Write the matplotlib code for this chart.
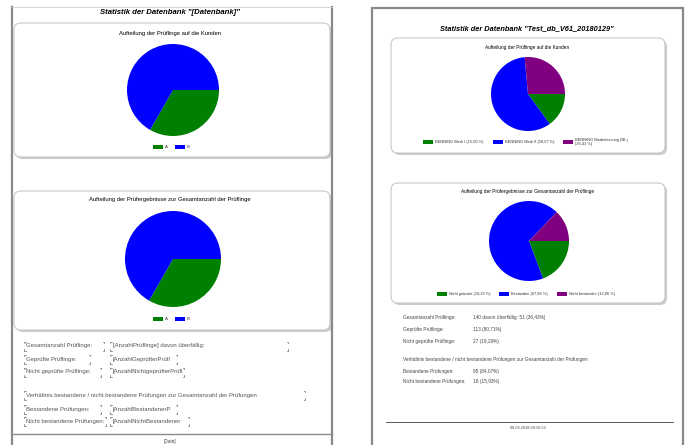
import matplotlib.pyplot as plt
import numpy as np
from matplotlib.patches import FancyBboxPatch, Rectangle

plt.rcParams['font.family'] = ['Liberation Sans', 'DejaVu Sans']

W, H = 688, 445

# data
design_labels = ['A', 'B']
design_kunden = [33.3, 66.7]
design_ergebnis = [33.3, 66.7]

kunden = ['BENNING Werk I', 'BENNING Werk II', 'BENNING Niederlassung (NL)']
kunden_pct = [15.00, 58.57, 26.43]
ergebnis = ['Nicht getestet', 'Bestanden', 'Nicht bestanden']
ergebnis_pct = [19.29, 67.86, 12.86]

colors = ['#008000', '#0000ff', '#800080']

design_rows = [
    ('Gesamtanzahl Prüflinge:', '[AnzahlPrüflinge] davon überfällig:'),
    ('Geprüfte Prüflinge:', '[AnzahlGeprüfterPrüfl'),
    ('Nicht geprüfte Prüflinge:', '[AnzahlNichtgeprüfterPrüfl'),
    ('Verhältnis bestandene / nicht bestandene Prüfungen zur Gesamtanzahl der Prüfungen', None),
    ('Bestandene Prüfungen:', '[AnzahlBestandenerP'),
    ('Nicht bestandene Prüfungen:', '[AnzahlNichtBestandener'),
]
report_rows = [
    ('Gesamtanzahl Prüflinge:', '140 davon überfällig: 51 (36,43%)'),
    ('Geprüfte Prüflinge:', '113 (80,71%)'),
    ('Nicht geprüfte Prüflinge:', '27 (19,29%)'),
    ('Verhältnis bestandene / nicht bestandene Prüfungen zur Gesamtanzahl der Prüfungen', None),
    ('Bestandene Prüfungen:', '95 (84,07%)'),
    ('Nicht bestandene Prüfungen:', '18 (15,93%)'),
]


def pct(v):
    return f'{v:.2f}'.replace('.', ',') + ' %'


fig = plt.figure(figsize=(W / 100, H / 100), dpi=100)
ax = fig.add_axes([0, 0, 1, 1])
ax.set_xlim(0, W)
ax.set_ylim(H, 0)
ax.axis('off')


def box(x0, y0, x1, y1):
    sh = FancyBboxPatch((x0 + 2, y0 + 2), x1 - x0, y1 - y0,
                        boxstyle='round,pad=0,rounding_size=7',
                        fc='#a8a8a8', ec='none', alpha=0.6, zorder=2)
    ax.add_patch(sh)
    b = FancyBboxPatch((x0, y0), x1 - x0, y1 - y0,
                       boxstyle='round,pad=0,rounding_size=7',
                       fc='white', ec='#c8c8c8', lw=0.8, zorder=3)
    ax.add_patch(b)


def pie(cx, cy, r, vals):
    pa = fig.add_axes([(cx - r) / W, (H - cy - r) / H, 2 * r / W, 2 * r / H])
    pa.pie(vals, colors=colors[:len(vals)], startangle=0, counterclock=False,
           wedgeprops=dict(linewidth=0))
    pa.set_xlim(-1, 1)
    pa.set_ylim(-1, 1)
    pa.axis('off')


def legend(xs, y, labels, size, fs):
    for i, (x, lab) in enumerate(zip(xs, labels)):
        ax.add_patch(Rectangle((x, y - 2), size, 4, fc=colors[i], ec='none', zorder=5))
        ax.text(x + size + 2, y, lab, fontsize=fs, va='center', ha='left',
                color='#333333', zorder=5, linespacing=0.9)


# ---------- left page (design view) ----------
ax.add_patch(Rectangle((12, 7), 320, 440, fc='white', ec='none', zorder=0))
gx, gy = np.meshgrid(np.arange(16, 330, 4), np.arange(10, 445, 4))
ax.scatter(gx.ravel(), gy.ravel(), s=0.3, c='#e0e0e0', marker='s', lw=0, zorder=1)
ax.plot([12, 12], [7, 445], color='#8a8a8a', lw=1.6, zorder=4)
ax.plot([332, 332], [7, 445], color='#8a8a8a', lw=1.6, zorder=4)
ax.plot([12, 332], [7, 7], color='#cfcfcf', lw=0.6, zorder=4)

ax.text(170, 12, 'Statistik der Datenbank "[Datenbank]"', fontsize=5.6,
        style='italic', weight='bold', ha='center', va='center', zorder=5)

box(14, 23, 330, 157)
ax.text(170, 33, 'Aufteilung der Prüflinge auf die Kunden', fontsize=4.2,
        ha='center', va='center', zorder=5)
pie(173, 90, 46, design_kunden)
legend([153, 175], 147, design_labels, 10, 3.2)

box(14, 191, 330, 330)
ax.text(170, 200, 'Aufteilung der Prüfergebnisse zur Gesamtanzahl der Prüflinge',
        fontsize=4.2, ha='center', va='center', zorder=5)
pie(173, 259, 48, design_ergebnis)
legend([153, 175], 319, design_labels, 10, 3.2)

row_y = [346, 359, 372, 395, 409, 421]
lab_right = [104, 90, 101, 305, 101, 106]
val_right = [288, 177, 184, None, 177, 189]


def brackets(x0, x1, yc):
    t, b = yc - 4.5, yc + 4.5
    k = 1.5
    kw = dict(color='#555555', lw=0.45, zorder=6)
    ax.plot([x0, x0, x0 + k], [t + k, t, t], **kw)
    ax.plot([x0, x0, x0 + k], [b - k, b, b], **kw)
    ax.plot([x1, x1, x1 - k], [t + k, t, t], **kw)
    ax.plot([x1, x1, x1 - k], [b - k, b, b], **kw)


for (lab, val), y, lr, vr in zip(design_rows, row_y, lab_right, val_right):
    ax.text(26, y, lab, fontsize=4.3, ha='left', va='center', color='#555555', zorder=6)
    brackets(24, lr, y)
    if val is not None:
        ax.text(113, y, val, fontsize=4.3, ha='left', va='center', color='#555555', zorder=6)
        brackets(110, vr, y)

ax.plot([12, 332], [434, 434], color='#8a8a8a', lw=1.0, zorder=4)
ax.text(170, 441, '[Date]', fontsize=3.3, ha='center', va='center', color='#444444', zorder=6)

# ---------- right page (rendered report) ----------
ax.add_patch(Rectangle((372, 8), 311, 445, fc='white', ec='#8a8a8a', lw=1.6, zorder=0))

ax.text(527, 29, 'Statistik der Datenbank "Test_db_V61_20180129"', fontsize=5.3,
        style='italic', weight='bold', ha='center', va='center', zorder=5)

box(391, 38, 665, 153)
ax.text(527, 47, 'Aufteilung der Prüflinge auf die Kunden', fontsize=3.4,
        ha='center', va='center', zorder=5)
pie(528, 94, 37, kunden_pct)
lab1 = [f'{k} ({pct(v)})' if len(k) < 20 else f'{k}\n({pct(v)})'
        for k, v in zip(kunden, kunden_pct)]
legend([423, 493, 563], 142, lab1, 10, 2.8)

box(391, 183, 665, 303)
ax.text(528, 191, 'Aufteilung der Prüfergebnisse zur Gesamtanzahl der Prüflinge',
        fontsize=3.4, ha='center', va='center', zorder=5)
pie(529, 241, 40, ergebnis_pct)
lab2 = [f'{k} ({pct(v)})' for k, v in zip(ergebnis, ergebnis_pct)]
legend([437, 499, 557], 294, lab2, 10, 2.8)

r_y = [317, 330, 342, 359, 371, 381]
for (lab, val), y in zip(report_rows, r_y):
    ax.text(403, y, lab, fontsize=3.4, ha='left', va='center', color='#444444', zorder=6)
    if val is not None:
        ax.text(473, y, val, fontsize=3.4, ha='left', va='center', color='#444444', zorder=6)

ax.plot([386, 673], [422, 422], color='#555555', lw=0.7, zorder=4)
ax.text(528, 428, '08.03.2018 09:16:53', fontsize=2.8, ha='center', va='center',
        color='#444444', zorder=6)

fig.savefig('out.png', dpi=100, facecolor='white')
